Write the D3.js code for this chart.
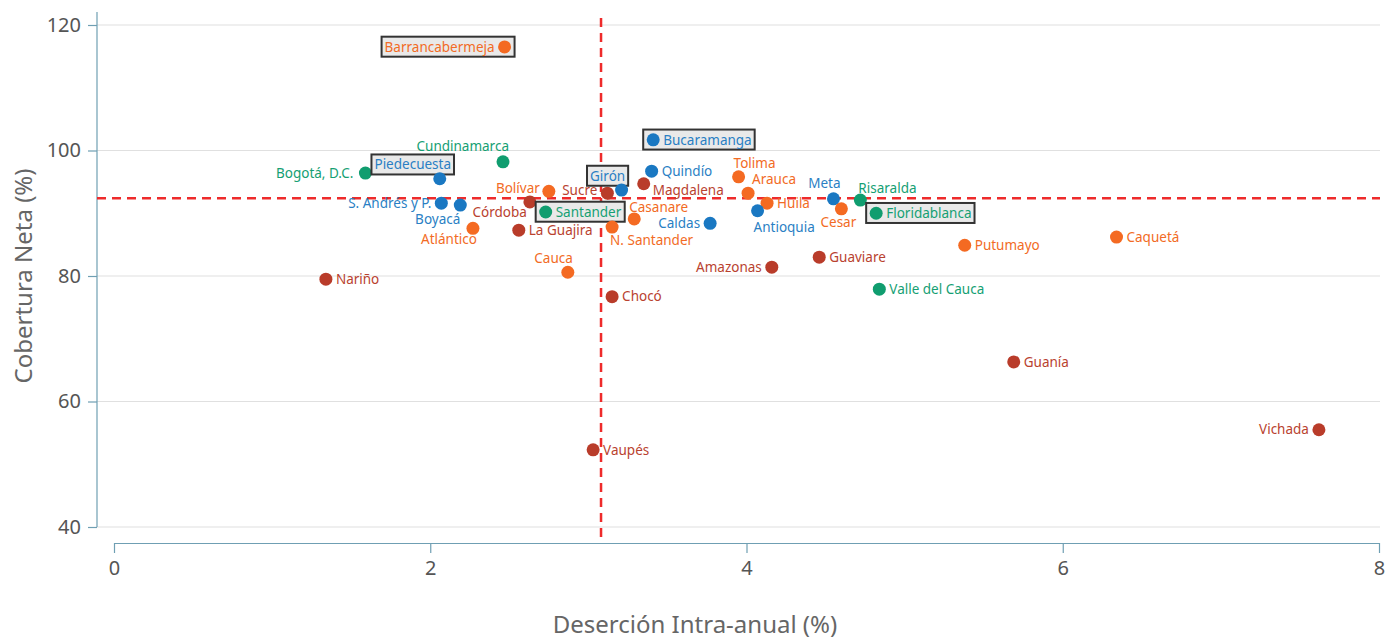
<!DOCTYPE html>
<html>
<head>
<meta charset="utf-8">
<script src="https://cdn.jsdelivr.net/npm/d3@7"></script>
<style>
  body { margin: 0; background: #fff; }
  svg { font-family: "Noto Sans", sans-serif; }
</style>
</head>
<body>
<svg id="chart" width="1386" height="640"></svg>
<script>
// departamentos / municipios
const nombres = ["Barrancabermeja", "Cundinamarca", "Bogotá, D.C.", "Piedecuesta", "S. Andrés y P.", "Boyacá",
  "Córdoba", "Bolívar", "Atlántico", "La Guajira", "Santander", "Cauca", "Nariño", "Vaupés", "Chocó", "Sucre",
  "Girón", "N. Santander", "Casanare", "Magdalena", "Quindío", "Bucaramanga", "Caldas", "Tolima", "Arauca",
  "Huila", "Antioquia", "Meta", "Cesar", "Risaralda", "Floridablanca", "Amazonas", "Guaviare", "Putumayo",
  "Caquetá", "Valle del Cauca", "Guanía", "Vichada"];
const desercion = [2.47, 2.46, 1.59, 2.06, 2.07, 2.19, 2.63, 2.75, 2.27, 2.56, 2.73, 2.87, 1.34, 3.03, 3.15, 3.12,
  3.21, 3.15, 3.29, 3.35, 3.40, 3.41, 3.77, 3.95, 4.01, 4.13, 4.07, 4.55, 4.60, 4.72, 4.82, 4.16, 4.46, 5.38,
  6.34, 4.84, 5.69, 7.62];
const cobertura = [116.5, 98.2, 96.4, 95.5, 91.6, 91.3, 91.8, 93.5, 87.6, 87.3, 90.2, 80.6, 79.5, 52.3, 76.7, 93.2,
  93.7, 87.8, 89.1, 94.7, 96.7, 101.7, 88.4, 95.8, 93.2, 91.6, 90.4, 92.3, 90.7, 92.1, 90.0, 81.4, 83.0, 84.9,
  86.2, 77.9, 66.3, 55.5];
const grupo = ["o", "g", "g", "b", "b", "b", "r", "o", "o", "r", "g", "o", "r", "r", "r", "r",
  "b", "o", "o", "r", "b", "b", "b", "o", "o", "o", "b", "b", "o", "g", "g", "r", "r", "o",
  "o", "g", "r", "r"];
const destacados = ["Barrancabermeja", "Piedecuesta", "Santander", "Girón", "Bucaramanga", "Floridablanca"];
const mediaDesercion = 3.08;
const mediaCobertura = 92.4;
const xTicks = [0, 2, 4, 6, 8];
const yTicks = [40, 60, 80, 100, 120];

const colores = { g: "#109d6f", b: "#1a78c2", o: "#f46a22", r: "#b93c2a" };
const coloresTexto = { g: "#15a073", b: "#2a7fc4", o: "#f26b25", r: "#b9422f" };

// label placement: [dx, dy, anchor]
const etiqueta = {
  "Barrancabermeja": [-10, 0, "end"], "Cundinamarca": [6, -16, "end"], "Bogotá, D.C.": [-12, 0, "end"],
  "Piedecuesta": [-27, -14, "middle"], "S. Andrés y P.": [-10, 0, "end"], "Boyacá": [0, 14, "end"],
  "Córdoba": [-3, 10, "end"], "Bolívar": [-9, -3, "end"], "Atlántico": [4, 11, "end"],
  "Cauca": [5, -14, "end"], "Sucre": [-10, -3, "end"], "Girón": [-14, -14, "middle"],
  "N. Santander": [-2, 13, "start"], "Casanare": [-5, -12, "start"], "Magdalena": [9, 7, "start"],
  "Caldas": [-10, 0, "end"], "Tolima": [-5, -14, "start"], "Arauca": [4, -14, "start"],
  "Antioquia": [-4, 17, "start"], "Meta": [7, -16, "end"], "Cesar": [-3, 13, "middle"],
  "Risaralda": [-2, -12, "start"], "Amazonas": [-10, 0, "end"], "Vichada": [-10, 0, "end"]
};

const datos = nombres.map((n, i) => ({ nombre: n, x: desercion[i], y: cobertura[i], g: grupo[i] }));

const svg = d3.select("#chart");
const x = d3.scaleLinear().domain([0, 8]).range([114, 1379]);
const y = d3.scaleLinear().domain([40, 120]).range([527, 25]);

// gridlines
svg.append("g").selectAll("line").data(yTicks).enter().append("line")
  .attr("x1", 97).attr("x2", 1380)
  .attr("y1", d => y(d)).attr("y2", d => y(d))
  .attr("stroke", "#e0e0e0").attr("stroke-width", 1.2);

// y axis
const yAxis = svg.append("g").attr("transform", "translate(97,0)")
  .call(d3.axisLeft(y).tickValues(yTicks).tickSize(9).tickPadding(7));
yAxis.select(".domain").attr("d", "M0,12V527");
yAxis.selectAll("path, line").attr("stroke", "#6f9fb3").attr("stroke-width", 1.2);
yAxis.selectAll("text").attr("fill", "#555").style("font-size", "20px").style("font-family", "Noto Sans");

// x axis
const xAxis = svg.append("g").attr("transform", "translate(0,543)")
  .call(d3.axisBottom(x).tickValues(xTicks).tickSize(10).tickPadding(8).tickSizeOuter(0));
xAxis.selectAll("path, line").attr("stroke", "#6f9fb3").attr("stroke-width", 1.2);
xAxis.selectAll("text").attr("fill", "#555").style("font-size", "20px").style("font-family", "Noto Sans");

// axis titles
svg.append("text").attr("x", 695).attr("y", 633).attr("text-anchor", "middle")
  .attr("fill", "#666").style("font-size", "24px").text("Deserción Intra-anual (%)");
svg.append("text").attr("transform", "translate(32,276) rotate(-90)").attr("text-anchor", "middle")
  .attr("fill", "#666").style("font-size", "24px").text("Cobertura Neta (%)");

// mean reference lines
svg.append("line").attr("x1", x(mediaDesercion)).attr("x2", x(mediaDesercion))
  .attr("y1", 18).attr("y2", 543)
  .attr("stroke", "#ee2b2b").attr("stroke-width", 2.5).attr("stroke-dasharray", "9,6");
svg.append("line").attr("x1", 97).attr("x2", 1380)
  .attr("y1", y(mediaCobertura)).attr("y2", y(mediaCobertura))
  .attr("stroke", "#ee2b2b").attr("stroke-width", 2.5).attr("stroke-dasharray", "9,6");

// points
const puntos = svg.append("g").selectAll("g").data(datos).enter().append("g")
  .attr("transform", d => `translate(${x(d.x)},${y(d.y)})`);

const textos = puntos.append("text")
  .attr("x", d => (etiqueta[d.nombre] || [10, 0, "start"])[0])
  .attr("y", d => (etiqueta[d.nombre] || [10, 0, "start"])[1])
  .attr("dy", "0.35em")
  .attr("text-anchor", d => (etiqueta[d.nombre] || [10, 0, "start"])[2])
  .attr("fill", d => coloresTexto[d.g])
  .style("font-size", "13.5px")
  .text(d => d.nombre);

// boxes for highlighted labels
textos.each(function (d) {
  if (!destacados.includes(d.nombre)) return;
  const b = this.getBBox();
  let x0 = b.x, x1 = b.x + b.width, y0 = b.y, y1 = b.y + b.height;
  const pos = etiqueta[d.nombre] || [10, 0, "start"];
  if (pos[1] === 0) { x0 = Math.min(x0, -7); x1 = Math.max(x1, 7); }
  d3.select(this.parentNode).insert("rect", "text")
    .attr("x", x0 - 3).attr("y", y0 - 1)
    .attr("width", x1 - x0 + 6).attr("height", y1 - y0 + 2)
    .attr("fill", "#e9e9e9").attr("stroke", "#333").attr("stroke-width", 2);
});

puntos.append("circle").attr("r", 6.5).attr("fill", d => colores[d.g]);
</script>
</body>
</html>
